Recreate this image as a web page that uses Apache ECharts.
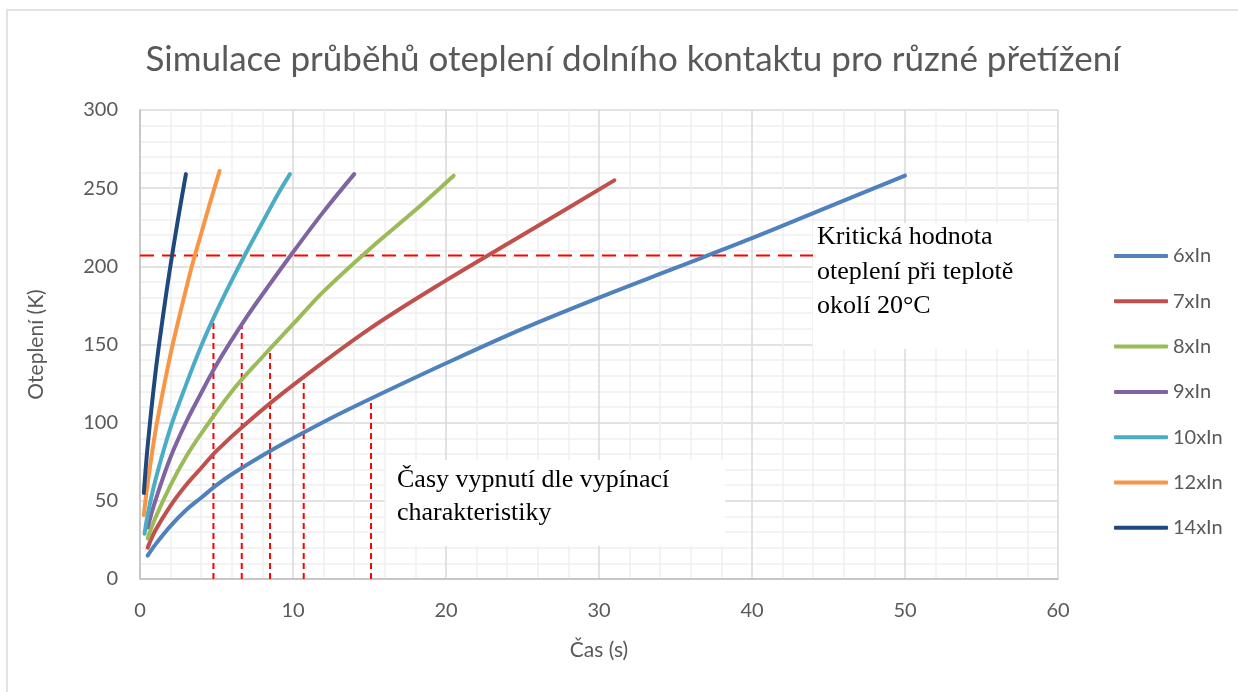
<!DOCTYPE html>
<html>
<head>
<meta charset="utf-8">
<script src="https://cdn.jsdelivr.net/npm/echarts@6/dist/echarts.min.js"></script>
<style>
  html, body { margin: 0; padding: 0; background: #fff; }
  #chart { width: 1238px; height: 692px; }
</style>
</head>
<body>
<div id="chart"></div>
<script>
// Overload curves: time (s) and temperature rise (K)
const loads = ['6xIn', '7xIn', '8xIn', '9xIn', '10xIn', '12xIn', '14xIn'];
const colors = ['#4F81BD', '#C0504D', '#9BBB59', '#8064A2', '#4BACC6', '#F79646', '#1F497D'];

const t6  = [0.5, 1, 2, 3, 4, 5, 6, 8, 10, 12.5, 15, 20, 25, 30, 35, 40, 45, 50];
const y6  = [15, 22, 34, 44, 52, 60, 67, 79, 90, 103, 115, 138, 160, 180, 199, 218, 238, 258];
const t7  = [0.5, 1, 2, 3, 4, 5, 7, 10, 15, 20, 25, 31];
const y7  = [20, 31, 47, 60, 71, 82, 100, 124, 160, 191, 220, 255];
const t8  = [0.5, 1, 2, 3, 4, 6, 8, 10, 12, 15, 18, 20.5];
const y8  = [26, 39, 60, 78, 93, 120, 142, 163, 184, 211, 236, 258];
const t9  = [0.5, 1, 2, 3, 4, 5, 6, 7, 8, 10, 12, 14];
const y9  = [33, 50, 78, 100, 119, 137, 153, 168, 182, 209, 235, 259];
const t10 = [0.3, 0.5, 1, 2, 3, 4, 5, 6, 7, 8, 9, 9.8];
const y10 = [29, 41, 63, 97, 124, 149, 171, 191, 210, 228, 246, 259];
const t12 = [0.25, 0.5, 1, 1.5, 2, 2.5, 3, 3.5, 4, 4.5, 5.2];
const y12 = [41, 61, 94, 120, 144, 165, 185, 204, 221, 238, 261];
const t14 = [0.25, 0.5, 1, 1.5, 2, 2.5, 3];
const y14 = [55, 85, 131, 168, 201, 231, 259];

// Trip times from the breaker characteristic and the rise reached at that moment
const tripTimes = [4.8, 6.65, 8.5, 10.7, 15.1];
const tripRise  = [167, 163, 148, 129, 115];

// Critical rise for 20 °C ambient
const criticalRise = 207;
const xTicks = [0, 60, 10];
const yTicks = [0, 300, 50];

const times = [t6, t7, t8, t9, t10, t12, t14];
const rises = [y6, y7, y8, y9, y10, y12, y14];

const chart = echarts.init(document.getElementById('chart'), null, { renderer: 'canvas' });

const labelFont = 'Lato, "Open Sans", sans-serif';
const serifFont = '"Liberation Serif", "DejaVu Serif", serif';
const textGray = '#595959';

const curveSeries = loads.map((name, i) => ({
  name: name,
  type: 'line',
  data: times[i].map((t, k) => [t, rises[i][k]]),
  smooth: 0.35,
  symbol: 'none',
  showSymbol: false,
  z: 3,
  lineStyle: { width: 4, color: colors[i], cap: 'round' },
  itemStyle: { color: colors[i] }
}));

const tripSeries = tripTimes.map((t, i) => ({
  name: 'trip' + i,
  type: 'line',
  data: [[t, 0], [t, tripRise[i]]],
  symbol: 'none',
  silent: true,
  z: 2,
  lineStyle: { width: 2, color: '#FF0000', type: [6, 4] }
}));

const criticalSeries = {
  name: 'critical',
  type: 'line',
  data: [[xTicks[0], criticalRise], [xTicks[1], criticalRise]],
  symbol: 'none',
  silent: true,
  z: 2,
  lineStyle: { width: 2, color: '#FF0000', type: [14, 8] }
};

// Annotation boxes sit on top of the plot (white fill hides grid and dashes)
function noteBox(left, top, w, h, text, padLeft, padTop, lineHeight) {
  return {
    type: 'group',
    left: left, top: top,
    z: 100,
    children: [
      { type: 'rect', z: 100, shape: { width: w, height: h }, style: { fill: '#ffffff' } },
      {
        type: 'text', z: 101, x: padLeft, y: padTop,
        style: { text: text, fontFamily: serifFont, fontSize: 26, lineHeight: lineHeight, fill: '#000000' }
      }
    ]
  };
}

chart.setOption({
  animation: false,
  backgroundColor: '#ffffff',
  title: {
    text: 'Simulace průběhů oteplení dolního kontaktu pro různé přetížení',
    left: 628,
    textAlign: 'center',
    top: 37,
    textStyle: { fontFamily: labelFont, fontWeight: 400, fontSize: 35, color: textGray }
  },
  grid: { left: 140, right: 180, top: 110, bottom: 113 },
  legend: {
    data: loads,
    orient: 'vertical',
    left: 1109,
    top: 240,
    icon: 'roundRect',
    itemWidth: 54,
    itemHeight: 4,
    itemGap: 23.3,
    textStyle: { fontFamily: labelFont, fontSize: 20, lineHeight: 22, color: textGray }
  },
  xAxis: {
    type: 'value',
    min: xTicks[0], max: xTicks[1], interval: xTicks[2],
    name: 'Čas (s)',
    nameLocation: 'middle',
    nameGap: 61,
    nameTextStyle: { fontFamily: labelFont, fontSize: 21, color: textGray },
    axisLine: { show: true, lineStyle: { color: '#bfbfbf', width: 1.5 } },
    axisTick: { show: false },
    axisLabel: { margin: 22, fontFamily: labelFont, fontSize: 20, color: textGray },
    splitLine: { show: true, lineStyle: { color: '#d9d9d9', width: 1.5 } },
    minorTick: { show: false, splitNumber: 5 },
    minorSplitLine: { show: true, lineStyle: { color: '#f0f0f0', width: 1.5 } }
  },
  yAxis: {
    type: 'value',
    min: yTicks[0], max: yTicks[1], interval: yTicks[2],
    name: 'Oteplení (K)',
    nameLocation: 'middle',
    nameGap: 93,
    nameTextStyle: { fontFamily: labelFont, fontSize: 21, color: textGray },
    axisLine: { show: true, lineStyle: { color: '#bfbfbf', width: 1.5 } },
    axisTick: { show: false },
    axisLabel: { margin: 22, fontFamily: labelFont, fontSize: 20, color: textGray },
    splitLine: { show: true, lineStyle: { color: '#d9d9d9', width: 1.5 } },
    minorTick: { show: false, splitNumber: 5 },
    minorSplitLine: { show: true, lineStyle: { color: '#f0f0f0', width: 1.5 } }
  },
  graphic: [
    {
      type: 'rect',
      shape: { x: 7, y: 10, width: 1300, height: 800 },
      style: { fill: 'none', stroke: '#d9d9d9', lineWidth: 1.5 },
      silent: true,
      z: 0
    },
    noteBox(813, 220, 244, 126, 'Kritická hodnota\noteplení při teplotě\nokolí 20°C', 4, -3, 34.5),
    noteBox(386, 460, 339, 86, 'Časy vypnutí dle vypínací\ncharakteristiky', 11, 4, 32.5)
  ],
  series: [criticalSeries].concat(tripSeries, curveSeries)
});
</script>
</body>
</html>
